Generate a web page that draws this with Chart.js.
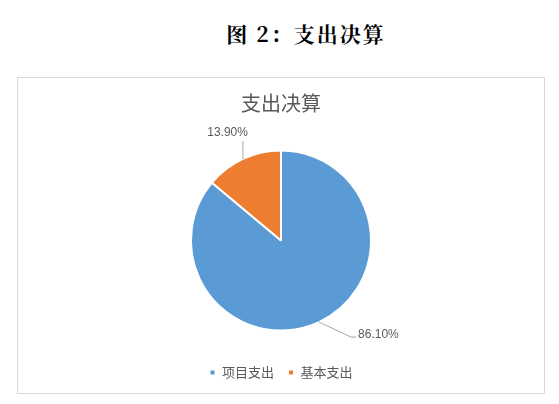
<!DOCTYPE html>
<html>
<head>
<meta charset="utf-8">
<script src="https://cdn.jsdelivr.net/npm/chart.js@4.4.0/dist/chart.umd.min.js"></script>
<style>
  body { margin: 0; background: #fff; width: 559px; height: 404px; position: relative; overflow: hidden; }
  #figTitle {
    position: absolute; left: 0; width: 612px; top: 18px; text-align: center;
    font-family: "Noto Serif CJK SC", "Noto Sans CJK SC", serif; font-weight: bold;
    font-size: 21px; color: #000; letter-spacing: 2px;
  }
  #box {
    position: absolute; left: 17px; top: 77px; width: 526px; height: 315px;
    border: 1px solid #d9d9d9;
  }
</style>
</head>
<body>
<div id="figTitle">图 2：支出决算</div>
<div id="box"><canvas id="pieChart" width="526" height="315"></canvas></div>
<script>
const categories = ['项目支出', '基本支出'];
const shares = [86.10, 13.90];
const colors = ['#5B9BD5', '#ED7D31'];

// leader line shapes per slice (elbow offset from arc edge, then label side)
const leaders = [
    { dx: 32, dy: 15, tail: 5, side: 'right' },
    { dx: 0, dy: -18, tail: 0, side: 'up' }
];

const pieLabels = {
    id: 'pieLabels',
    afterDatasetsDraw(chart) {
        const ctx = chart.ctx;
        const meta = chart.getDatasetMeta(0);
        meta.data.forEach((arc, i) => {
            const p = arc.getProps(['x', 'y', 'startAngle', 'endAngle', 'outerRadius'], true);
            const mid = (p.startAngle + p.endAngle) / 2;
            const x0 = p.x + Math.cos(mid) * p.outerRadius;
            const y0 = p.y + Math.sin(mid) * p.outerRadius;
            const l = leaders[i];
            const x1 = x0 + l.dx, y1 = y0 + l.dy;
            ctx.save();
            ctx.strokeStyle = '#a6a6a6';
            ctx.lineWidth = 1;
            ctx.beginPath();
            ctx.moveTo(x0, y0);
            ctx.lineTo(x1, y1);
            ctx.lineTo(x1 + l.tail, y1);
            ctx.stroke();
            ctx.fillStyle = '#595959';
            ctx.font = '12px "Liberation Sans", Arial, sans-serif';
            const txt = shares[i].toFixed(2) + '%';
            if (l.side === 'right') {
                ctx.textAlign = 'left';
                ctx.textBaseline = 'middle';
                ctx.fillText(txt, x1 + l.tail + 2, y1 - 2);
            } else {
                ctx.textAlign = 'right';
                ctx.textBaseline = 'bottom';
                ctx.fillText(txt, x1 + 5, y1 - 2);
            }
            ctx.restore();
        });
    }
};

new Chart(document.getElementById('pieChart'), {
    type: 'pie',
    data: {
        labels: categories,
        datasets: [{
            data: shares,
            backgroundColor: colors,
            borderColor: '#ffffff',
            borderWidth: 2,
            radius: 90
        }]
    },
    options: {
        responsive: false,
        animation: false,
        layout: { padding: { bottom: 4 } },
        plugins: {
            title: {
                display: true,
                text: '支出决算',
                color: '#595959',
                font: { family: '"Noto Sans CJK SC", sans-serif', size: 20, weight: 'normal' },
                padding: { top: 13, bottom: 14 }
            },
            legend: {
                position: 'bottom',
                labels: {
                    color: '#595959',
                    font: { family: '"Noto Sans CJK SC", sans-serif', size: 13 },
                    boxWidth: 6,
                    boxHeight: 6,
                    padding: 14
                }
            },
            tooltip: { enabled: false }
        }
    },
    plugins: [pieLabels]
});
</script>
</body>
</html>
